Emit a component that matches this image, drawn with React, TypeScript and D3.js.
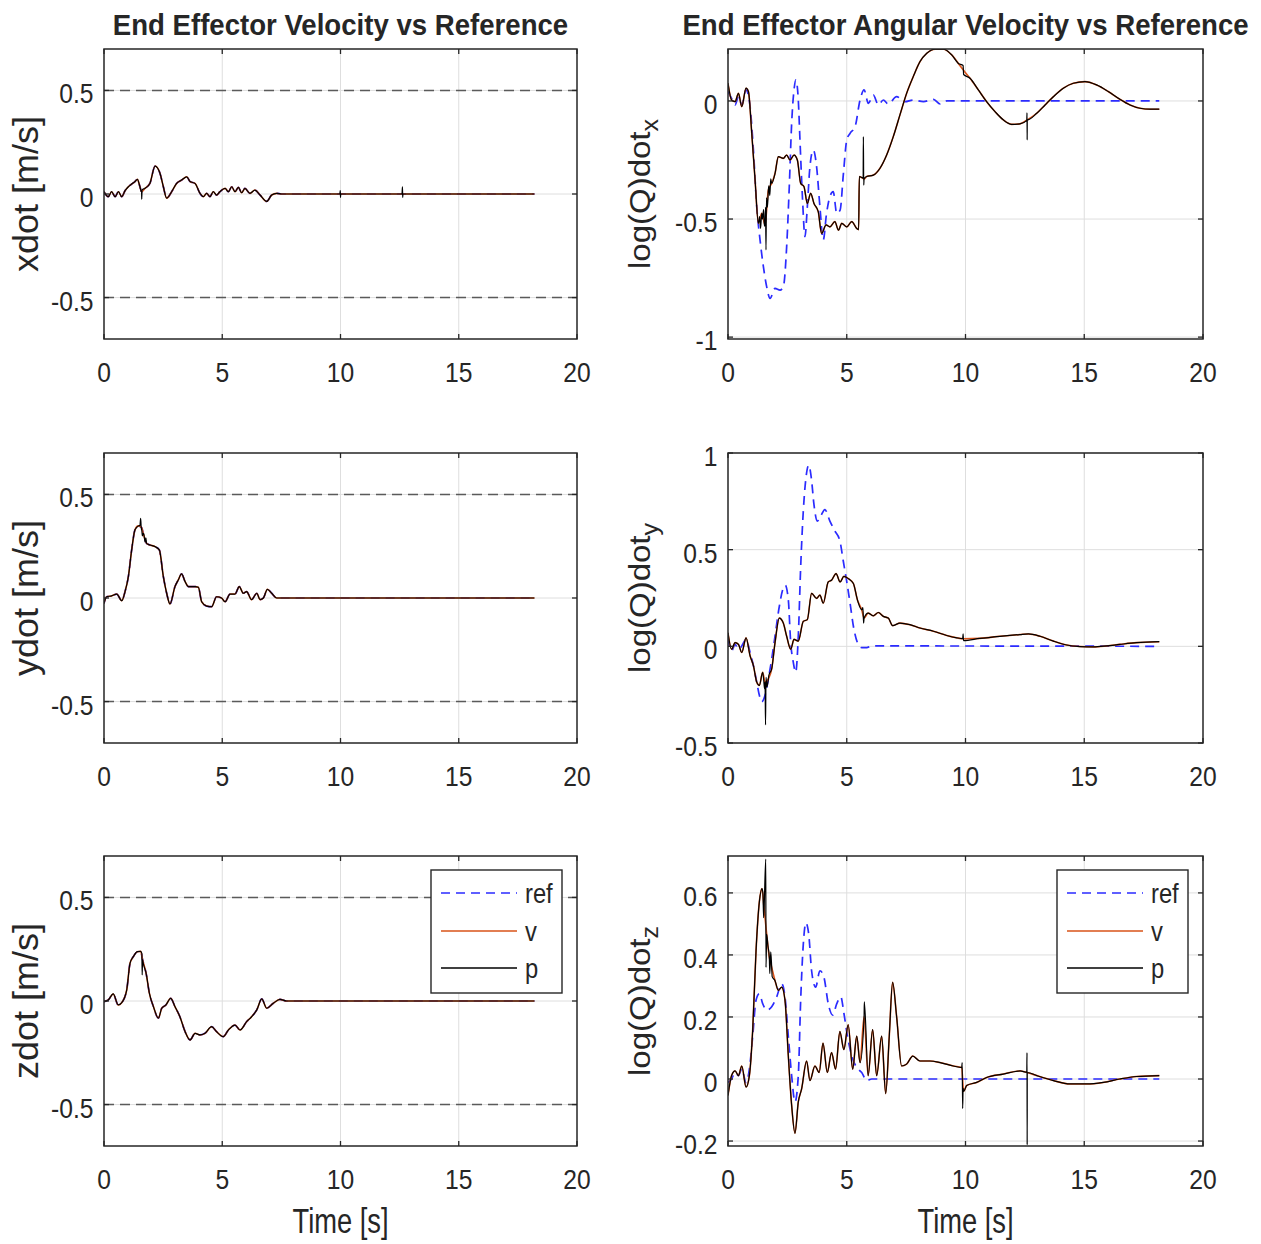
import React from "react";
import * as d3 from "d3";

type P = [number, number];

// ---------- tick values & labels ----------
const timeTicks = [0, 5, 10, 15, 20];
const timeTickLabels = ["0", "5", "10", "15", "20"];
const velTicks = [-0.5, 0, 0.5];
const velTickLabels = ["-0.5", "0", "0.5"];
const wxTicks = [-1, -0.5, 0];
const wxTickLabels = ["-1", "-0.5", "0"];
const wyTicks = [-0.5, 0, 0.5, 1];
const wyTickLabels = ["-0.5", "0", "0.5", "1"];
const wzTicks = [-0.2, 0, 0.2, 0.4, 0.6];
const wzTickLabels = ["-0.2", "0", "0.2", "0.4", "0.6"];
const velLimits = [-0.5, 0.5];
const legendLabels = ["ref", "v", "p"];

// ---------- linear velocity (ref == v, hidden underneath) ----------
const xdotV: P[] = [[0,0.011],[0.18,-0.013],[0.32,0.011],[0.47,-0.013],[0.61,0.011],[0.75,-0.013],[0.89,0.016],[1.03,0.035],[1.17,0.048],[1.31,0.06],[1.41,0.071],[1.52,0.035],[1.59,0.011],[1.73,0.027],[1.94,0.051],[2.16,0.135],[2.37,0.099],[2.51,0.035],[2.65,-0.02],[2.86,0.011],[3.07,0.051],[3.28,0.067],[3.5,0.083],[3.64,0.06],[3.85,0.051],[4.06,0.003],[4.2,-0.013],[4.34,0.003],[4.48,-0.013],[4.62,0.011],[4.76,-0.005],[4.9,0.011],[5.12,0.027],[5.26,0.011],[5.4,0.035],[5.54,0.011],[5.68,0.032],[5.82,0.006],[5.96,0.027],[6.17,0.003],[6.38,0.019],[6.6,-0.005],[6.88,-0.036],[7.09,-0.005],[7.3,0.003],[7.51,0],[7.72,0],[18.2,0]];
const xdotPSpikes: P[] = [[1.58,0.011],[1.595,-0.025],[1.61,0.02],[9.97,0],[9.99,0.016],[10.0,-0.016],[10.01,0],[10.03,0],[12.6,0],[12.62,0.035],[12.63,-0.016],[12.64,0],[12.66,0]];

const ydotV: P[] = [[0,-0.026],[0.11,0.006],[0.32,0.01],[0.54,0.019],[0.75,-0.013],[0.89,0.031],[1.03,0.103],[1.17,0.232],[1.31,0.329],[1.45,0.348],[1.59,0.34],[1.66,0.312],[1.8,0.264],[1.94,0.256],[2.16,0.248],[2.34,0.232],[2.51,0.103],[2.65,0.023],[2.79,-0.029],[3.0,0.055],[3.14,0.087],[3.28,0.116],[3.43,0.079],[3.57,0.055],[3.71,0.055],[3.85,0.055],[3.99,0.052],[4.13,-0.018],[4.34,-0.039],[4.55,-0.042],[4.76,0.006],[4.97,0],[5.12,-0.018],[5.33,0.019],[5.54,0.019],[5.72,0.055],[5.89,0.023],[6.03,0.031],[6.24,-0.008],[6.46,0.023],[6.6,-0.008],[6.74,0],[6.91,0.042],[7.09,0.023],[7.3,0],[7.51,0],[18.2,0]];
const ydotPSpikes: P[] = [[1.52,0.35],[1.55,0.385],[1.58,0.33],[1.62,0.3],[1.68,0.31],[1.74,0.27],[1.77,0.29]];

const zdotV: P[] = [[0,-0.003],[0.18,0.005],[0.39,0.034],[0.6,-0.019],[0.75,-0.008],[0.96,0.053],[1.1,0.182],[1.24,0.214],[1.41,0.238],[1.55,0.24],[1.63,0.2],[1.78,0.134],[1.92,0.037],[2.09,-0.027],[2.3,-0.083],[2.44,-0.035],[2.62,-0.019],[2.82,0.013],[3.0,-0.027],[3.21,-0.076],[3.43,-0.148],[3.64,-0.188],[3.85,-0.156],[4.06,-0.164],[4.27,-0.156],[4.55,-0.124],[4.76,-0.148],[5.04,-0.172],[5.26,-0.14],[5.54,-0.116],[5.75,-0.14],[6.03,-0.1],[6.24,-0.076],[6.46,-0.043],[6.67,0.01],[6.88,-0.035],[7.16,-0.011],[7.44,0.008],[7.72,0],[18.2,0]];
const zdotPSpikes: P[] = [[1.6,0.23],[1.615,0.126],[1.645,0.19]];

// ---------- angular velocity ----------
const wxRef: P[] = [[0,0.04],[0.15,0.011],[0.3,-0.017],[0.44,0.018],[0.58,-0.017],[0.76,0.047],[0.93,-0.024],[1.07,-0.208],[1.21,-0.448],[1.35,-0.589],[1.49,-0.702],[1.63,-0.787],[1.77,-0.836],[1.98,-0.794],[2.19,-0.801],[2.33,-0.787],[2.47,-0.617],[2.58,-0.363],[2.68,-0.095],[2.78,0.047],[2.86,0.089],[2.96,0.004],[3.03,-0.165],[3.14,-0.42],[3.24,-0.575],[3.34,-0.448],[3.45,-0.278],[3.59,-0.208],[3.73,-0.278],[3.87,-0.448],[4.01,-0.589],[4.15,-0.476],[4.29,-0.405],[4.43,-0.384],[4.58,-0.476],[4.72,-0.462],[4.86,-0.307],[5.0,-0.165],[5.14,-0.137],[5.35,-0.109],[5.56,0.004],[5.73,0.047],[5.91,-0.01],[6.12,0.025],[6.33,-0.017],[6.54,0.004],[6.75,-0.013],[7.1,0.018],[7.45,-0.003],[7.8,0.004],[8.23,-0.003],[8.65,0.007],[8.93,-0.013],[9.21,0],[18.16,0]];
const wxV: P[] = [[0,0.075],[0.15,0.004],[0.3,-0.003],[0.44,0.032],[0.58,-0.024],[0.76,0.054],[0.86,0.04],[1.0,-0.137],[1.14,-0.335],[1.28,-0.518],[1.42,-0.476],[1.56,-0.525],[1.7,-0.377],[1.84,-0.349],[1.98,-0.307],[2.12,-0.236],[2.33,-0.243],[2.47,-0.229],[2.61,-0.25],[2.78,-0.229],[2.92,-0.25],[3.06,-0.349],[3.2,-0.363],[3.34,-0.434],[3.48,-0.391],[3.62,-0.434],[3.8,-0.469],[3.94,-0.561],[4.13,-0.525],[4.29,-0.533],[4.5,-0.511],[4.65,-0.547],[4.79,-0.518],[5.0,-0.533],[5.21,-0.511],[5.42,-0.54],[5.5,-0.545],[5.53,-0.32],[5.73,-0.33],[5.84,-0.32],[6.12,-0.314],[6.4,-0.285],[6.68,-0.229],[6.96,-0.151],[7.24,-0.059],[7.52,0.032],[7.8,0.103],[8.08,0.166],[8.37,0.202],[8.72,0.219],[9.07,0.219],[9.42,0.195],[9.7,0.159],[9.91,0.131],[10.19,0.096],[10.54,0.047],[10.89,-0.003],[11.24,-0.045],[11.59,-0.08],[11.94,-0.099],[12.29,-0.097],[12.6,-0.08],[13.0,-0.052],[13.35,-0.017],[13.7,0.018],[14.12,0.054],[14.54,0.075],[15.03,0.082],[15.52,0.068],[16.01,0.04],[16.5,0.007],[16.93,-0.017],[17.35,-0.031],[17.77,-0.035],[18.16,-0.035]];
const wxPSpikes: P[] = [[1.33,-0.49],[1.37,-0.54],[1.45,-0.5],[1.5,-0.46],[1.53,-0.53],[1.58,-0.45],[1.6,-0.631],[1.62,-0.41],[1.66,-0.45],[1.72,-0.36],[1.76,-0.4],[1.8,-0.33],[5.69,-0.327],[5.7,-0.151],[5.715,-0.356],[9.9,0.15],[9.92,0.112],[12.58,-0.082],[12.59,-0.05],[12.597,-0.165],[12.605,-0.08]];

const wyRef: P[] = [[0,0.044],[0.15,-0.024],[0.3,0.01],[0.44,-0.015],[0.58,0.002],[0.76,0.036],[0.93,-0.032],[1.07,-0.1],[1.21,-0.185],[1.32,-0.253],[1.42,-0.287],[1.56,-0.253],[1.7,-0.168],[1.84,-0.066],[1.98,0.053],[2.16,0.206],[2.3,0.291],[2.41,0.316],[2.54,0.24],[2.64,0.019],[2.75,-0.083],[2.85,-0.134],[2.96,0.053],[3.06,0.41],[3.17,0.699],[3.28,0.869],[3.4,0.937],[3.51,0.869],[3.62,0.733],[3.76,0.648],[3.9,0.673],[4.08,0.707],[4.29,0.648],[4.5,0.597],[4.71,0.546],[4.85,0.444],[4.99,0.342],[5.14,0.223],[5.28,0.104],[5.45,0.019],[5.63,-0.007],[5.84,-0.007],[6.05,0.002],[18.16,0]];
const wyV: P[] = [[0,0.07],[0.15,-0.015],[0.3,0.019],[0.44,0.01],[0.58,-0.032],[0.76,0.044],[0.93,-0.049],[1.07,-0.1],[1.21,-0.185],[1.32,-0.202],[1.46,-0.134],[1.56,-0.185],[1.7,-0.168],[1.84,-0.117],[1.98,0.019],[2.16,0.146],[2.33,0.12],[2.47,0.052],[2.64,-0.015],[2.78,0.036],[2.96,0.027],[3.17,0.129],[3.34,0.138],[3.52,0.274],[3.73,0.248],[3.87,0.265],[4.01,0.223],[4.22,0.333],[4.36,0.342],[4.55,0.376],[4.72,0.333],[4.88,0.362],[5.07,0.35],[5.28,0.325],[5.45,0.24],[5.63,0.189],[5.73,0.146],[5.9,0.172],[6.12,0.158],[6.33,0.175],[6.54,0.155],[6.75,0.146],[6.93,0.107],[7.24,0.12],[7.66,0.112],[8.08,0.095],[8.65,0.078],[9.21,0.056],[9.63,0.044],[9.91,0.039],[10.6,0.041],[11.45,0.052],[12.29,0.061],[12.65,0.064],[13.14,0.052],[13.7,0.027],[14.26,0.007],[14.82,-0.001],[15.38,-0.003],[15.94,0.002],[16.5,0.01],[17.2,0.019],[18.16,0.024]];
const wyPSpikes: P[] = [[1.5,-0.17],[1.54,-0.22],[1.58,-0.406],[1.6,-0.16],[1.64,-0.21],[1.72,-0.15],[5.68,0.2],[5.71,0.12],[9.88,0.04],[9.9,0.065],[9.92,0.03]];

const wzRef: P[] = [[0,-0.011],[0.15,0],[0.3,0.021],[0.44,0.011],[0.58,0.032],[0.76,-0.011],[0.9,0.032],[1.04,0.138],[1.18,0.254],[1.32,0.275],[1.46,0.243],[1.63,0.222],[1.84,0.233],[2.05,0.265],[2.26,0.307],[2.4,0.265],[2.54,0.138],[2.68,0.011],[2.82,-0.074],[2.96,0.011],[3.06,0.254],[3.17,0.434],[3.28,0.503],[3.4,0.466],[3.52,0.349],[3.69,0.296],[3.87,0.349],[4.04,0.328],[4.22,0.243],[4.41,0.206],[4.58,0.243],[4.75,0.265],[4.88,0.212],[5.03,0.138],[5.21,0.074],[5.42,0.037],[5.63,0.021],[5.84,-0.005],[6.05,0],[18.16,0]];
const wzV: P[] = [[0,-0.053],[0.15,0.011],[0.3,0.026],[0.44,0.011],[0.58,0.042],[0.76,-0.026],[0.9,0.011],[1.04,0.159],[1.18,0.413],[1.32,0.571],[1.43,0.614],[1.52,0.55],[1.63,0.466],[1.74,0.392],[1.84,0.36],[1.98,0.317],[2.12,0.286],[2.26,0.296],[2.4,0.254],[2.54,0.074],[2.68,-0.085],[2.82,-0.175],[2.96,-0.074],[3.1,-0.032],[3.31,0.058],[3.45,-0.005],[3.66,0.042],[3.84,0.021],[4.0,0.116],[4.18,0.021],[4.36,0.085],[4.53,0.032],[4.71,0.153],[4.88,0.095],[5.06,0.175],[5.25,0.032],[5.42,0.138],[5.56,0.053],[5.73,0.201],[5.9,0.011],[6.09,0.159],[6.26,0.011],[6.47,0.138],[6.64,-0.047],[6.79,0.138],[6.93,0.312],[7.1,0.201],[7.31,0.042],[7.52,0.048],[7.78,0.074],[8.08,0.058],[8.5,0.058],[8.93,0.053],[9.49,0.042],[9.84,0.037],[9.92,-0.04],[10.05,-0.021],[10.47,-0.011],[10.89,0.005],[11.59,0.016],[12.3,0.026],[12.6,0.021],[13.0,0.011],[13.7,-0.005],[14.4,-0.016],[15.1,-0.016],[15.8,-0.011],[16.5,0],[17.2,0.008],[18.16,0.011]];
const wzPSpikes: P[] = [[1.47,0.6],[1.5,0.52],[1.59,0.709],[1.6,0.36],[1.68,0.43],[1.76,0.34],[1.8,0.41],[1.86,0.33],[5.74,0.249],[9.86,0.053],[9.88,-0.095],[9.9,-0.03],[12.58,0.022],[12.59,0.085],[12.597,-0.212],[12.605,0.021]];

// ---------- styling ----------
const FONT = "'Liberation Sans', Arial, Helvetica, sans-serif";
const TXT = "#262626";
const REF_COLOR = "#2b2bff";
const V_COLOR = "#D95319";
const P_COLOR = "#000000";
const GRID = "#dedede";

function HText(props: { x: number; y: number; size: number; sx?: number; anchor?: string; weight?: string; children: React.ReactNode }) {
  const { x, y, size, sx = 0.88, anchor = "middle", weight = "normal", children } = props;
  return (
    <text transform={`translate(${x},${y}) scale(${sx},1)`} fontSize={size} textAnchor={anchor as any}
      fontWeight={weight} fontFamily={FONT} fill={TXT}>{children}</text>
  );
}

type AxProps = {
  id: string; left: number; top: number; width: number; height: number;
  yDomain: [number, number]; yTicks: number[]; yTickLabels: string[];
  yLabel: React.ReactNode; yLabelX: number; yLabelSize: number; yLabelSy: number;
  refData: P[]; vData: P[]; pSpikes: P[];
  limits?: number[]; legend?: boolean; xLabel?: string;
};

function Axes(p: AxProps) {
  const { id, left, top, width, height, yDomain } = p;
  const x = d3.scaleLinear().domain([0, 20]).range([left, left + width]);
  const y = d3.scaleLinear().domain(yDomain).range([top + height, top]);
  const line = d3.line<P>().x(d => x(d[0])).y(d => y(d[1])).curve(d3.curveMonotoneX);
  const pData = [...p.vData, ...p.pSpikes].sort((a, b) => a[0] - b[0]);
  const bottom = top + height;
  const right = left + width;
  const tl = 5;

  const lgRight = right - 15, lgTop = top + 14, lgW = 131, lgH = 123;
  const lgLeft = lgRight - lgW;
  const rows = [lgTop + 23, lgTop + 61, lgTop + 98];

  return (
    <g>
      <defs>
        <clipPath id={id}><rect x={left} y={top} width={width} height={height} /></clipPath>
      </defs>
      <rect x={left} y={top} width={width} height={height} fill="#fff" />
      {timeTicks.filter(t => t > 0 && t < 20).map(t => (
        <line key={"gx" + t} x1={x(t)} x2={x(t)} y1={top} y2={bottom} stroke={GRID} strokeWidth={1} />
      ))}
      {p.yTicks.map(v => (
        <line key={"gy" + v} x1={left} x2={right} y1={y(v)} y2={y(v)} stroke={GRID} strokeWidth={1} />
      ))}
      {p.limits && p.limits.map(v => (
        <line key={"lim" + v} x1={left} x2={right} y1={y(v)} y2={y(v)} stroke="#5a5a5a" strokeWidth={1.4} strokeDasharray="10,6" />
      ))}
      <g clipPath={`url(#${id})`}>
        <path d={line(p.refData) || ""} fill="none" stroke={REF_COLOR} strokeWidth={1.7} strokeDasharray="9,6" />
        <path d={line(p.vData) || ""} fill="none" stroke={V_COLOR} strokeWidth={1.6} />
        <path d={line(pData) || ""} fill="none" stroke={P_COLOR} strokeWidth={1.2} />
      </g>
      <rect x={left} y={top} width={width} height={height} fill="none" stroke={TXT} strokeWidth={1.5} />
      {timeTicks.map(t => (
        <g key={"tx" + t}>
          <line x1={x(t)} x2={x(t)} y1={bottom} y2={bottom - tl} stroke={TXT} strokeWidth={1.3} />
          <line x1={x(t)} x2={x(t)} y1={top} y2={top + tl} stroke={TXT} strokeWidth={1.3} />
        </g>
      ))}
      {p.yTicks.map(v => (
        <g key={"ty" + v}>
          <line x1={left} x2={left + tl} y1={y(v)} y2={y(v)} stroke={TXT} strokeWidth={1.3} />
          <line x1={right} x2={right - tl} y1={y(v)} y2={y(v)} stroke={TXT} strokeWidth={1.3} />
        </g>
      ))}
      {timeTicks.map((t, i) => (
        <HText key={"lx" + t} x={x(t)} y={bottom + 43} size={28}>{timeTickLabels[i]}</HText>
      ))}
      {p.yTicks.map((v, i) => (
        <HText key={"ly" + v} x={left - 10.5} y={y(v) + 13} size={28} anchor="end">{p.yTickLabels[i]}</HText>
      ))}
      <text transform={`translate(${p.yLabelX},${top + height / 2}) rotate(-90) scale(1,${p.yLabelSy})`}
        fontSize={p.yLabelSize} textAnchor="middle" fontFamily={FONT} fill={TXT}>{p.yLabel}</text>
      {p.xLabel && (
        <HText x={left + width / 2} y={bottom + 87} size={35} sx={0.78}>{p.xLabel}</HText>
      )}
      {p.legend && (
        <g>
          <rect x={lgLeft} y={lgTop} width={lgW} height={lgH} fill="#fff" stroke={TXT} strokeWidth={1.4} />
          <line x1={lgLeft + 10} x2={lgLeft + 86} y1={rows[0]} y2={rows[0]} stroke={REF_COLOR} strokeWidth={1.7} strokeDasharray="9,6" />
          <line x1={lgLeft + 10} x2={lgLeft + 86} y1={rows[1]} y2={rows[1]} stroke={V_COLOR} strokeWidth={1.6} />
          <line x1={lgLeft + 10} x2={lgLeft + 86} y1={rows[2]} y2={rows[2]} stroke={P_COLOR} strokeWidth={1.4} />
          {legendLabels.map((s, i) => (
            <HText key={s} x={lgLeft + 94} y={rows[i] + 10} size={27} anchor="start">{s}</HText>
          ))}
        </g>
      )}
    </g>
  );
}

export default function App() {
  const colL = [104, 728];
  const colW = [473, 475];
  const rowT = [49, 453, 856];
  const h = 290;
  const angLabel = (sub: string) => (
    <>log(Q)dot<tspan fontSize={25} dy={9}>{sub}</tspan></>
  );
  return (
    <svg width={1261} height={1244} style={{ position: "absolute", left: 0, top: 0, background: "#fff" }}
      xmlns="http://www.w3.org/2000/svg">
      <rect x={0} y={0} width={1261} height={1244} fill="#fff" />
      <HText x={colL[0] + colW[0] / 2} y={35} size={30} sx={0.92} weight="bold">End Effector Velocity vs Reference</HText>
      <HText x={colL[1] + colW[1] / 2} y={35} size={30} sx={0.92} weight="bold">End Effector Angular Velocity vs Reference</HText>

      <Axes id="c1" left={colL[0]} top={rowT[0]} width={colW[0]} height={h} yDomain={[-0.7, 0.7]}
        yTicks={velTicks} yTickLabels={velTickLabels} yLabel="xdot [m/s]" yLabelX={38} yLabelSize={36} yLabelSy={0.95}
        refData={xdotV} vData={xdotV} pSpikes={xdotPSpikes} limits={velLimits} />
      <Axes id="c2" left={colL[0]} top={rowT[1]} width={colW[0]} height={h} yDomain={[-0.7, 0.7]}
        yTicks={velTicks} yTickLabels={velTickLabels} yLabel="ydot [m/s]" yLabelX={38} yLabelSize={36} yLabelSy={0.95}
        refData={ydotV} vData={ydotV} pSpikes={ydotPSpikes} limits={velLimits} />
      <Axes id="c3" left={colL[0]} top={rowT[2]} width={colW[0]} height={h} yDomain={[-0.7, 0.7]}
        yTicks={velTicks} yTickLabels={velTickLabels} yLabel="zdot [m/s]" yLabelX={38} yLabelSize={36} yLabelSy={0.95}
        refData={zdotV} vData={zdotV} pSpikes={zdotPSpikes} limits={velLimits} legend xLabel="Time [s]" />

      <Axes id="c4" left={colL[1]} top={rowT[0]} width={colW[1]} height={h} yDomain={[-1.008, 0.22]}
        yTicks={wxTicks} yTickLabels={wxTickLabels} yLabel={angLabel("x")} yLabelX={650} yLabelSize={33} yLabelSy={0.92}
        refData={wxRef} vData={wxV} pSpikes={wxPSpikes} />
      <Axes id="c5" left={colL[1]} top={rowT[1]} width={colW[1]} height={h} yDomain={[-0.5, 1]}
        yTicks={wyTicks} yTickLabels={wyTickLabels} yLabel={angLabel("y")} yLabelX={650} yLabelSize={33} yLabelSy={0.92}
        refData={wyRef} vData={wyV} pSpikes={wyPSpikes} />
      <Axes id="c6" left={colL[1]} top={rowT[2]} width={colW[1]} height={h} yDomain={[-0.216, 0.719]}
        yTicks={wzTicks} yTickLabels={wzTickLabels} yLabel={angLabel("z")} yLabelX={650} yLabelSize={33} yLabelSy={0.92}
        refData={wzRef} vData={wzV} pSpikes={wzPSpikes} legend xLabel="Time [s]" />
    </svg>
  );
}
